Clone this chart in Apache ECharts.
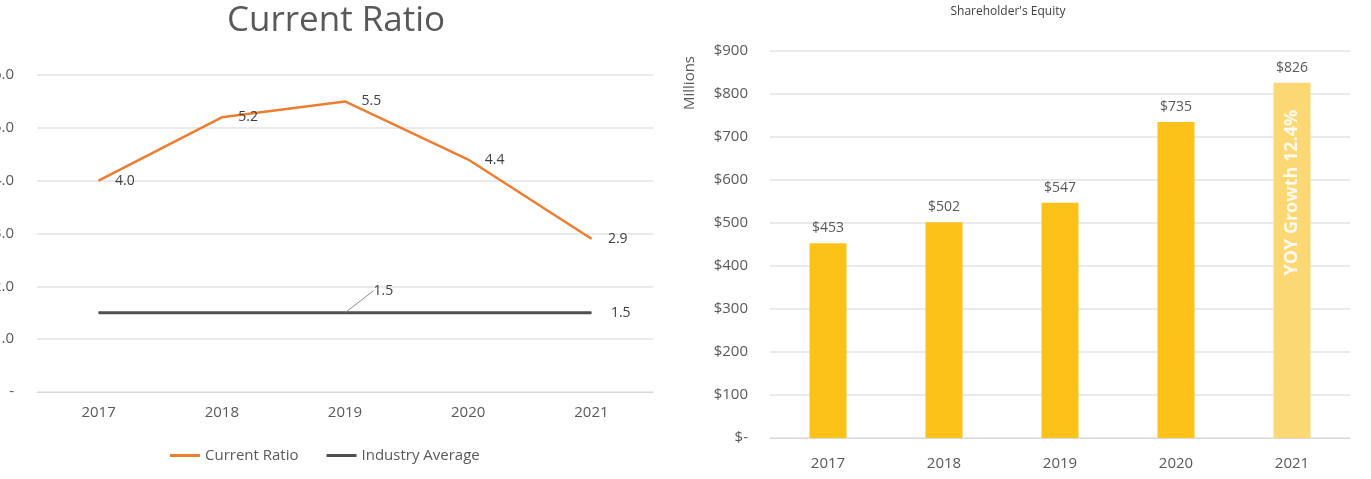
<!DOCTYPE html>
<html>
<head>
<meta charset="utf-8">
<script src="https://cdn.jsdelivr.net/npm/echarts@6/dist/echarts.min.js"></script>
<style>
html,body{margin:0;padding:0;background:#fff;}
#c{width:1371px;height:479px;}
</style>
</head>
<body>
<div id="c"></div>
<script>
// ---- data ----
var years = ['2017', '2018', '2019', '2020', '2021'];
var currentRatio = [4.0, 5.2, 5.5, 4.4, 2.9];
var industryAverage = [1.5, 1.5, 1.5, 1.5, 1.5];
var equity = [453, 502, 547, 735, 826];
var ratioTicks = [0, 1, 2, 3, 4, 5, 6];
var equityTicks = [0, 100, 200, 300, 400, 500, 600, 700, 800, 900];

var FONT = 'Open Sans';
var GREY = '#595959';
var LABEL = '#404040';

var growth = (equity[4] / equity[3] - 1) * 100;
var growthText = 'YOY Growth ' + growth.toFixed(1) + '%';

var chart = echarts.init(document.getElementById('c'));

var industryData = industryAverage.map(function (v, i) {
  var item = { value: v, label: { show: (i === 2 || i === 4) } };
  if (i === 2) item.labelLine = { show: true, lineStyle: { color: '#8c8c8c', width: 1 } };
  return item;
});

var equityData = equity.map(function (v, i) {
  return i === equity.length - 1
    ? { value: v, itemStyle: { color: '#FCD875' } }
    : v;
});
var growthData = equity.map(function (v, i) {
  return i === equity.length - 1 ? v : '-';
});

chart.setOption({
  animation: false,
  textStyle: { fontFamily: FONT },
  title: [
    { text: 'Current Ratio', left: 331, top: -1, textAlign: 'center',
      textStyle: { fontFamily: FONT, fontSize: 35, fontWeight: 'normal', color: GREY } },
    { text: "Shareholder's Equity", left: 1003, top: 1, textAlign: 'center',
      textStyle: { fontFamily: FONT, fontSize: 12, fontWeight: 'normal', color: '#404040' } }
  ],
  legend: {
    data: ['Current Ratio', 'Industry Average'],
    left: 165, top: 443,
    icon: 'rect', itemWidth: 30, itemHeight: 3, itemGap: 28, itemStyle: { opacity: 1 },
    textStyle: { fontFamily: FONT, fontSize: 15, color: GREY }
  },
  graphic: [
    { type: 'text', left: 682, top: 56, rotation: Math.PI / 2,
      style: { text: 'Millions', fontFamily: FONT, fontSize: 15, fill: GREY } }
  ],
  grid: [
    { left: 37, top: 75, width: 616, height: 317, containLabel: false, outerBoundsMode: 'none' },
    { left: 770, top: 51, width: 580, height: 387, containLabel: false, outerBoundsMode: 'none' }
  ],
  xAxis: [
    { type: 'category', gridIndex: 0, data: years, boundaryGap: true,
      axisLine: { show: true, lineStyle: { color: '#d9d9d9', width: 1 } },
      axisTick: { show: false },
      axisLabel: { fontFamily: FONT, fontSize: 15, color: GREY, margin: 13 } },
    { type: 'category', gridIndex: 1, data: years, boundaryGap: true,
      axisLine: { show: true, lineStyle: { color: '#d9d9d9', width: 1 } },
      axisTick: { show: false },
      axisLabel: { fontFamily: FONT, fontSize: 15, color: GREY, margin: 18 } }
  ],
  yAxis: [
    { type: 'value', gridIndex: 0, min: ratioTicks[0], max: ratioTicks[ratioTicks.length - 1], interval: 1,
      axisLine: { show: false }, axisTick: { show: false },
      splitLine: { lineStyle: { color: '#e3e3e3', width: 1.5 } },
      axisLabel: { fontFamily: FONT, fontSize: 15, color: GREY, margin: 23,
        formatter: function (v) { return v === 0 ? '-' : v.toFixed(1); } } },
    { type: 'value', gridIndex: 1, min: equityTicks[0], max: equityTicks[equityTicks.length - 1], interval: 100,
      axisLine: { show: false }, axisTick: { show: false },
      splitLine: { lineStyle: { color: '#e3e3e3', width: 1.5 } },
      axisLabel: { fontFamily: FONT, fontSize: 15, color: GREY, margin: 22,
        formatter: function (v) { return v === 0 ? '$-' : '$' + v; } } }
  ],
  series: [
    { name: 'Current Ratio', type: 'line', xAxisIndex: 0, yAxisIndex: 0,
      data: currentRatio, symbol: 'circle', symbolSize: 1, showSymbol: true, color: '#ED7D31',
      lineStyle: { color: '#ED7D31', width: 2.5 },
      label: { show: true, position: 'right', distance: 16, fontFamily: FONT, fontSize: 14, color: LABEL,
        formatter: function (p) { return p.value.toFixed(1); } } },
    { name: 'Industry Average', type: 'line', xAxisIndex: 0, yAxisIndex: 0,
      data: industryData, symbol: 'circle', symbolSize: 1, showSymbol: true, color: '#505050',
      lineStyle: { color: '#505050', width: 3 },
      label: { show: false, position: 'right', distance: 19, fontFamily: FONT, fontSize: 14, color: LABEL,
        formatter: function (p) { return p.value.toFixed(1); } },
      labelLayout: function (p) {
        return p.dataIndex === 2 ? { dx: 9, dy: -22 } : {};
      } },
    { name: 'Equity', type: 'bar', xAxisIndex: 1, yAxisIndex: 1,
      data: equityData, barWidth: 37, color: '#FDC21A',
      itemStyle: { color: '#FDC21A' },
      label: { show: true, position: 'top', distance: 8, fontFamily: FONT, fontSize: 14, color: GREY,
        formatter: function (p) { return '$' + p.value; } } },
    { name: 'Growth', type: 'bar', xAxisIndex: 1, yAxisIndex: 1,
      data: growthData, barWidth: 37, barGap: '-100%', silent: true,
      itemStyle: { color: 'rgba(0,0,0,0)' },
      label: { show: true, position: 'insideTop', rotate: 90, align: 'right', verticalAlign: 'middle',
        distance: 27, fontFamily: FONT, fontSize: 18, fontWeight: 'bold', color: 'rgba(255,255,255,0.88)',
        formatter: function () { return growthText; } } }
  ]
});
</script>
</body>
</html>
